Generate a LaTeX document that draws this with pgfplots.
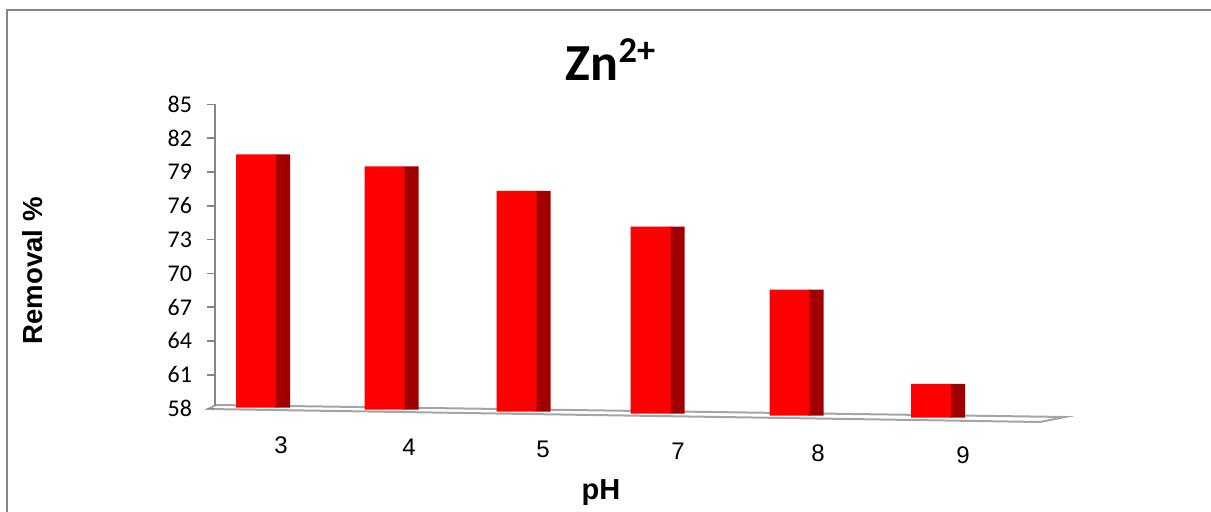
\documentclass[border=0pt]{standalone}
\usepackage{fontspec}
\setmainfont{Carlito}
\newfontfamily\arial{Liberation Sans}
\usepackage{pgfplots}
\pgfplotsset{compat=1.18}
\usepackage{pgfplotstable}
\definecolor{barred}{RGB}{255,0,0}
\definecolor{barside}{RGB}{160,0,0}
\definecolor{axgray}{RGB}{134,134,134}
\definecolor{floorgray}{RGB}{165,165,165}

% pos = bar position (horizontal), base = floor level under the bar, removal = Removal %
\pgfplotstableread{
pos   base   removal
256   58.07  80.5
384.5 57.90  79.6
516.5 57.73  77.6
650.5 57.55  74.6
789.5 57.36  69.2
931   57.18  61.0
}\zndata

\pgfplotsset{
  common/.style={
    at={(107.5pt,-212.69pt)}, anchor=south west,
    x=0.5pt, y=5.6296pt,
    xmin=215, xmax=1070, ymin=56.5, ymax=85,
    ybar stacked,
    clip mode=individual,
  }
}

\begin{document}
\begin{tikzpicture}[x=0.5pt,y=-0.5pt]
\path[use as bounding box] (0,0) rectangle (1211,512);
\draw[axgray, line width=1pt] (7,512) -- (7,10) -- (1211,10);
% floor and vertical axis line
\draw[floorgray, line width=1pt, fill=white] (208,409) -- (1040,422) -- (1065,417) -- (216,405) -- cycle;
\draw[axgray, line width=0.8pt] (215,406) -- (215,104.5);

\begin{axis}[
  common,
  bar width=7.6pt,
  hide axis,
]
\addplot[draw=none, fill=none] table[x expr=\thisrow{pos}+26.5, y=base] {\zndata};
\addplot[draw=none, fill=barside] table[x expr=\thisrow{pos}+26.5, y expr=\thisrow{removal}-58] {\zndata};
\end{axis}

\begin{axis}[
  common,
  bar width=20pt,
  axis x line*=bottom, axis y line*=left,
  axis line style={draw=none},
  ytick={58,61,...,85},
  tick align=outside,
  major tick length=4pt,
  ytick style={axgray, line width=0.8pt},
  xtick style={draw=none},
  xtick={281,409,543,678,818,963},
  xticklabels={3,4,5,7,8,9},
  xticklabel style={font=\arial\fontsize{12}{14}\selectfont, anchor=center, yshift={-(5.8+\ticknum)*1pt}},
  yticklabel style={font=\fontsize{12}{14}\selectfont, xshift=-4pt},
  /pgf/number format/assume math mode=true,
]
\addplot[draw=none, fill=none] table[x=pos, y=base] {\zndata};
\addplot[draw=none, fill=barred] table[x=pos, y expr=\thisrow{removal}-58] {\zndata};
\end{axis}

\node[anchor=base, font=\bfseries\fontsize{26}{30}\selectfont] at (611,81) {Zn\textsuperscript{2+}};
\node[anchor=base, font=\arial\bfseries\fontsize{14.5}{17}\selectfont] at (601,500) {pH};
\node[rotate=90, anchor=center, font=\arial\bfseries\fontsize{13.8}{16}\selectfont] at (33,271) {Removal \%};
\end{tikzpicture}
\end{document}
